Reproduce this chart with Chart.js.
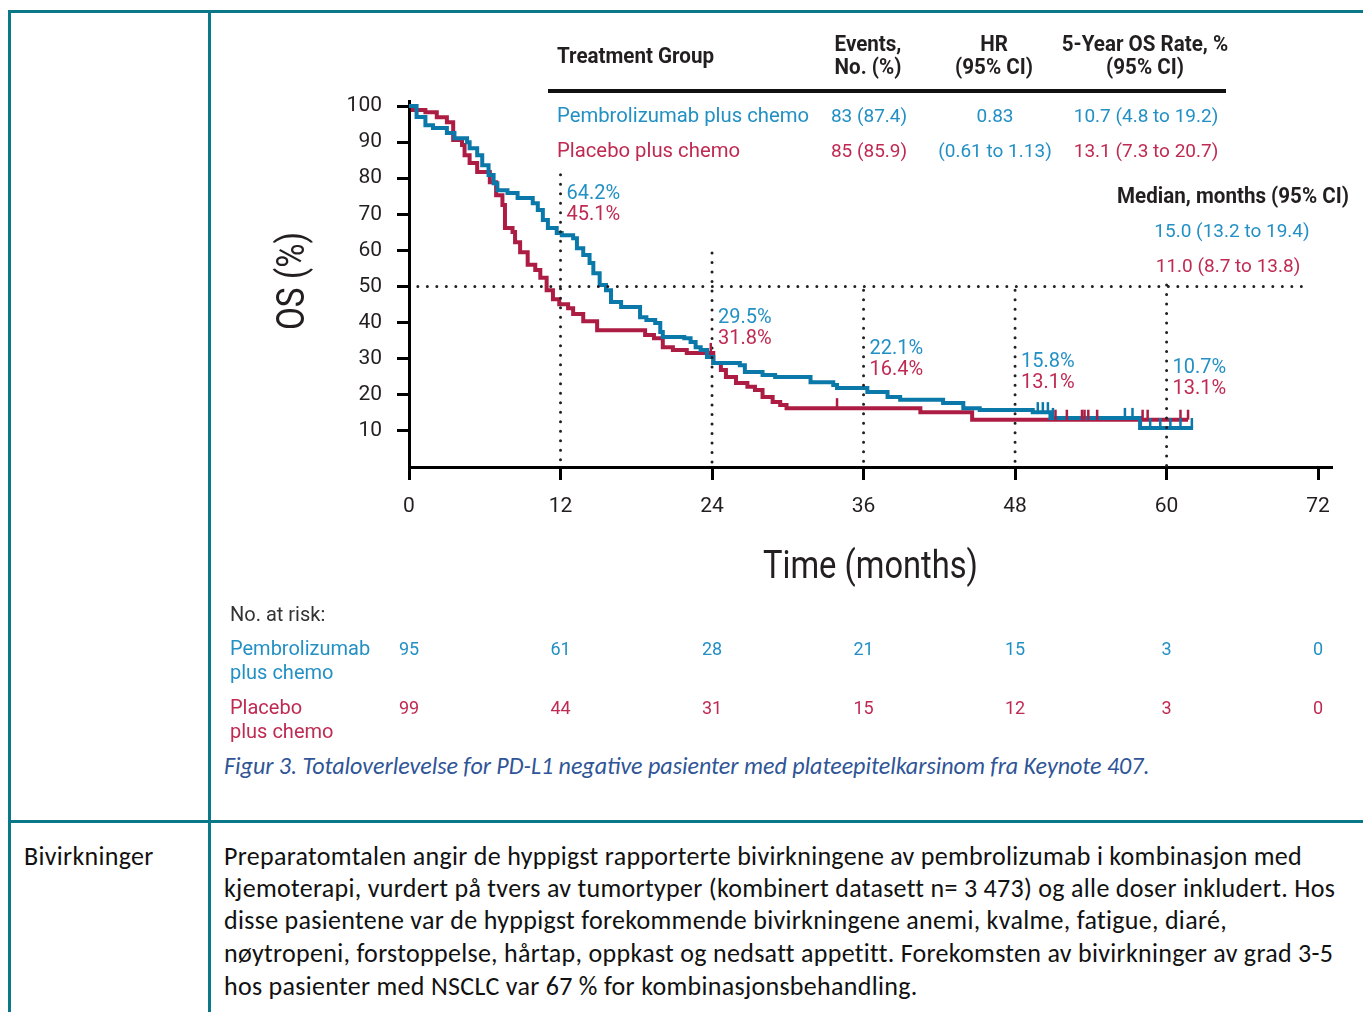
<!DOCTYPE html>
<html lang="no">
<head>
<meta charset="utf-8">
<title>Totaloverlevelse PD-L1 negative</title>
<script src="https://cdn.jsdelivr.net/npm/chart.js@4.4.1/dist/chart.umd.min.js"></script>
<style>
  html, body { margin: 0; padding: 0; background: #fff; }
  body { position: relative; width: 1363px; height: 1012px; overflow: hidden; }
  .rule { position: absolute; background: #0b7889; }
  .txt { position: absolute; white-space: nowrap; line-height: 1; }
  .l { transform: translateY(-50%); transform-origin: left center; }
  .c { transform: translate(-50%, -50%); text-align: center; }
  .tbl { font-family: Roboto, "Liberation Sans", sans-serif; font-size: 19px; }
  .nm { font-size: 20.3px; }
  .hd { font-family: Roboto, "Liberation Sans", sans-serif; font-weight: bold; font-size: 22px; color: #231f20; line-height: 23px; }
  .blue { color: #2390c4; }
  .red { color: #bf2a52; }
  .risk { font-family: Roboto, "Liberation Sans", sans-serif; font-size: 20px; line-height: 24px; }
  .doc { font-family: Carlito, Lato, sans-serif; font-size: 26px; letter-spacing: 0.3px; color: #111; }
  .cap { font-family: Carlito, Lato, sans-serif; font-size: 24px; font-style: italic; color: #2f5597; }
  #chartBox { position: absolute; left: 212px; top: 14px; width: 1151px; height: 731px; }
</style>
</head>
<body>
<div class="rule" style="left:8px;top:10px;width:1355px;height:3px"></div>
<div class="rule" style="left:8px;top:10px;width:3px;height:1002px"></div>
<div class="rule" style="left:208px;top:10px;width:3px;height:1002px"></div>
<div class="rule" style="left:8px;top:820px;width:1355px;height:3px"></div>

<div id="chartBox"><canvas id="osChart"></canvas></div>

<!-- tabell i figuren -->
<div class="txt hd l" id="tgHead" style="left:557px;top:55px">Treatment Group</div>
<div class="txt hd c" style="left:868px;top:55px">Events,<br>No. (%)</div>
<div class="txt hd c" style="left:994px;top:55px">HR<br>(95% CI)</div>
<div class="txt hd c" style="left:1145px;top:55px">5-Year OS Rate, %<br>(95% CI)</div>
<div style="position:absolute;left:548px;top:89px;width:678px;height:4px;background:#111"></div>

<div class="txt tbl nm blue l" style="left:557px;top:115px">Pembrolizumab plus chemo</div>
<div class="txt tbl blue c" style="left:869px;top:115px">83 (87.4)</div>
<div class="txt tbl blue c" style="left:995px;top:115px">0.83</div>
<div class="txt tbl blue c" style="left:1146px;top:115px">10.7 (4.8 to 19.2)</div>
<div class="txt tbl nm red l" style="left:557px;top:150px">Placebo plus chemo</div>
<div class="txt tbl red c" style="left:869px;top:150px">85 (85.9)</div>
<div class="txt tbl blue c" style="left:995px;top:150px">(0.61 to 1.13)</div>
<div class="txt tbl red c" style="left:1146px;top:150px">13.1 (7.3 to 20.7)</div>

<div class="txt hd c" style="left:1233px;top:195px">Median, months (95% CI)</div>
<div class="txt tbl blue c" style="left:1232px;top:230px">15.0 (13.2 to 19.4)</div>
<div class="txt tbl red c" style="left:1228px;top:265px">11.0 (8.7 to 13.8)</div>

<!-- antall i risiko -->
<div class="txt risk l" style="left:230px;top:614px;color:#333">No. at risk:</div>
<div class="txt risk blue l" style="left:230px;top:660px">Pembrolizumab<br>plus chemo</div>
<div class="txt risk red l" style="left:230px;top:719px">Placebo<br>plus chemo</div>

<div class="txt cap l" style="left:224px;top:766px">Figur 3. Totaloverlevelse for PD-L1 negative pasienter med plateepitelkarsinom fra Keynote 407.</div>

<div class="txt doc l" style="left:24px;top:856px">Bivirkninger</div>
<div class="txt doc l" style="left:224px;top:856px">Preparatomtalen angir de hyppigst rapporterte bivirkningene av pembrolizumab i kombinasjon med</div>
<div class="txt doc l" style="left:224px;top:888px">kjemoterapi, vurdert på tvers av tumortyper (kombinert datasett n= 3 473) og alle doser inkludert. Hos</div>
<div class="txt doc l" style="left:224px;top:920px">disse pasientene var de hyppigst forekommende bivirkningene anemi, kvalme, fatigue, diaré,</div>
<div class="txt doc l" style="left:224px;top:953px">nøytropeni, forstoppelse, hårtap, oppkast og nedsatt appetitt. Forekomsten av bivirkninger av grad 3-5</div>
<div class="txt doc l" style="left:224px;top:986px">hos pasienter med NSCLC var 67 % for kombinasjonsbehandling.</div>

<script>
// akser
const xTicks = [0, 12, 24, 36, 48, 60, 72];
const yTicks = [10, 20, 30, 40, 50, 60, 70, 80, 90, 100];
const xTitle = 'Time (months)';
const yTitle = 'OS (%)';

// Kaplan-Meier (måneder, OS %)
const pembroTime = [0, 0.6, 1.3, 1.9, 3.0, 3.6, 4.6, 4.8, 5.4, 5.8, 6.3, 6.7, 7.0, 7.8, 8.6, 9.8, 10.2, 10.6, 11.0, 11.7, 12.1, 13.0, 13.3, 13.8, 14.3, 14.6, 15.1, 15.6, 16.0, 16.8, 18.3, 18.8, 19.5, 19.9, 20.1, 21.8, 22.3, 22.7, 23.1, 23.6, 24.1, 26.2, 26.6, 28.0, 29.0, 31.8, 33.6, 33.9, 36.3, 37.9, 38.9, 42.3, 43.9, 45.2, 49.4, 50.8, 57.9, 62.1];
const pembroSurv = [100, 97.0, 94.7, 93.9, 92.5, 91.1, 90.0, 88.3, 86.4, 83.6, 80.9, 78.6, 76.7, 75.9, 74.5, 73.1, 71.2, 68.4, 66.2, 64.8, 64.2, 63.4, 60.6, 58.7, 56.5, 53.7, 50.4, 49.0, 45.7, 44.3, 41.5, 40.7, 39.9, 37.4, 36.0, 35.7, 34.6, 33.2, 32.4, 30.5, 28.8, 28.2, 26.3, 25.5, 24.9, 23.5, 22.7, 21.9, 20.8, 19.4, 18.6, 17.7, 16.3, 15.8, 15.2, 13.6, 10.8, 10.8];
const placeboTime = [0, 0.3, 1.3, 2.2, 3.0, 3.5, 4.2, 4.4, 4.8, 5.4, 6.4, 6.9, 7.4, 7.6, 8.2, 8.4, 8.8, 9.4, 10.0, 10.4, 10.9, 11.4, 11.9, 12.6, 13.0, 13.8, 14.9, 18.7, 19.4, 20.1, 20.9, 22.0, 24.1, 24.7, 25.1, 25.9, 26.8, 27.4, 28.0, 28.8, 29.4, 29.9, 40.5, 44.6, 61.7];
const placeboSurv = [100, 98.9, 98.3, 96.9, 95.5, 90.6, 89.2, 86.4, 84.2, 81.7, 78.9, 75.3, 72.6, 66.2, 65.1, 62.3, 59.5, 56.0, 54.6, 52.4, 49.0, 46.5, 45.1, 44.0, 42.4, 40.4, 37.9, 36.6, 35.7, 33.2, 32.4, 31.6, 28.8, 26.9, 24.9, 23.3, 22.2, 21.3, 19.4, 18.0, 17.2, 16.3, 15.2, 13.1, 13.1];

// sensurerte observasjoner (måneder)
const pembroCensor = [49.8, 50.2, 50.6, 51.0, 56.7, 57.3, 58.7, 59.5, 60.3, 61.1, 62.0];
const placeboCensor = [23.9, 33.9, 51.2, 52.1, 53.3, 53.5, 53.8, 54.5, 58.1, 58.5, 61.1, 61.7];

// landemerker
const landmarks = [12, 24, 36, 48, 60];
const pembroLandmark = ['64.2%', '29.5%', '22.1%', '15.8%', '10.7%'];
const placeboLandmark = ['45.1%', '31.8%', '16.4%', '13.1%', '13.1%'];
const medianLevel = 50;

// antall i risiko
const atRiskPembro = [95, 61, 28, 21, 15, 3, 0];
const atRiskPlacebo = [99, 44, 31, 15, 12, 3, 0];

const blueLine = '#0a78a8';
const redLine = '#ad1c43';
const blueText = '#2390c4';
const redText = '#bf2a52';
const ink = '#231f20';

// hvor de stiplede linjene starter (OS %) og hvor etikettene står
const landmarkLineTop = [81, 59.3, 49, 49, 50.4];
const labelY = [75.6, 41.3, 32.7, 29.1, 27.4];

// smal overskrift: klem Roboto bold til samme bredde som i originalen
const hdScale = 157 / document.getElementById('tgHead').getBoundingClientRect().width;
document.querySelectorAll('.hd').forEach(el => {
    el.style.transform = el.classList.contains('c')
        ? `translate(-50%, -50%) scaleX(${hdScale})`
        : `translateY(-50%) scaleX(${hdScale})`;
});

function toPoints(ts, ss) {
    return ts.map((t, i) => ({ x: t, y: ss[i] }));
}

function survAt(t, ts, ss) {
    let v = ss[0];
    for (let i = 0; i < ts.length; i++) {
        if (ts[i] <= t) v = ss[i];
    }
    return v;
}

function narrowText(ctx, text, cx, cy, width, rotate) {
    ctx.save();
    ctx.translate(cx, cy);
    if (rotate) ctx.rotate(-Math.PI / 2);
    ctx.font = '38px Roboto';
    const w = ctx.measureText(text).width;
    ctx.scale(width / w, 1);
    ctx.fillStyle = ink;
    ctx.textAlign = 'center';
    ctx.textBaseline = 'middle';
    ctx.fillText(text, 0, 0);
    ctx.restore();
}

const dotted = {
    borderColor: ink,
    borderWidth: 3,
    borderDash: [0, 9.5],
    borderCapStyle: 'round',
    pointRadius: 0,
    fill: false,
    order: 1
};

const kmExtras = {
    id: 'kmExtras',
    afterDatasetsDraw(chart) {
        const { ctx, scales: { x, y } } = chart;
        ctx.save();

        // sensurmerker
        ctx.lineWidth = 2.5;
        const censor = (times, ts, ss, color) => {
            ctx.strokeStyle = color;
            times.forEach(t => {
                const px = x.getPixelForValue(t);
                const py = y.getPixelForValue(survAt(t, ts, ss));
                ctx.beginPath();
                ctx.moveTo(px, py);
                ctx.lineTo(px, py - 10);
                ctx.stroke();
            });
        };
        censor(placeboCensor, placeboTime, placeboSurv, redLine);
        censor(pembroCensor, pembroTime, pembroSurv, blueLine);

        // landemerke-etiketter
        ctx.font = '20px Roboto';
        ctx.textAlign = 'left';
        ctx.textBaseline = 'middle';
        landmarks.forEach((t, i) => {
            const px = x.getPixelForValue(t) + 6;
            const py = y.getPixelForValue(labelY[i]);
            ctx.fillStyle = blueText;
            ctx.fillText(pembroLandmark[i], px, py);
            ctx.fillStyle = redText;
            ctx.fillText(placeboLandmark[i], px, py + 21);
        });

        // antall i risiko under aksen
        ctx.font = '18px Roboto';
        ctx.textAlign = 'center';
        xTicks.forEach((t, i) => {
            const px = x.getPixelForValue(t);
            ctx.fillStyle = blueText;
            ctx.fillText(atRiskPembro[i], px, x.bottom + 46);
            ctx.fillStyle = redText;
            ctx.fillText(atRiskPlacebo[i], px, x.bottom + 105);
        });
        ctx.restore();

        // aksetitler
        narrowText(ctx, xTitle, (x.left + x.right) / 2, x.bottom - 36, 215, false);
        narrowText(ctx, yTitle, y.left + 82, (y.top + y.bottom) / 2 - 3, 98, true);
    }
};

const datasets = [
    {
        label: 'Placebo plus chemo',
        data: toPoints(placeboTime, placeboSurv),
        stepped: 'before',
        borderColor: redLine,
        borderWidth: 4,
        pointRadius: 0,
        fill: false,
        order: 3
    },
    {
        label: 'Pembrolizumab plus chemo',
        data: toPoints(pembroTime, pembroSurv),
        stepped: 'before',
        borderColor: blueLine,
        borderWidth: 4,
        pointRadius: 0,
        fill: false,
        order: 2
    },
    { ...dotted, label: 'median', data: [{ x: 0.7, y: medianLevel }, { x: 71, y: medianLevel }] }
];
landmarks.forEach((t, i) => {
    datasets.push({ ...dotted, label: 'lm' + t, data: [{ x: t, y: landmarkLineTop[i] }, { x: t, y: 0 }] });
});

new Chart(document.getElementById('osChart'), {
    type: 'line',
    data: { datasets },
    options: {
        responsive: true,
        maintainAspectRatio: false,
        animation: false,
        layout: { padding: { left: 0, top: 87, right: 31, bottom: 141 } },
        plugins: { legend: { display: false }, tooltip: { enabled: false } },
        scales: {
            x: {
                type: 'linear',
                min: 0,
                max: 73.1,
                afterBuildTicks: s => { s.ticks = xTicks.map(v => ({ value: v })); },
                afterFit: s => { s.height = 137; },
                border: { display: true, color: '#000', width: 3 },
                grid: { display: true, drawOnChartArea: false, drawTicks: true, tickLength: 13, tickWidth: 3, tickColor: '#000' },
                ticks: { color: ink, font: { family: 'Roboto', size: 21 }, padding: 14, maxRotation: 0, autoSkip: false },
                title: { display: false, text: xTitle }
            },
            y: {
                type: 'linear',
                min: 0,
                max: 101.4,
                afterBuildTicks: s => { s.ticks = yTicks.map(v => ({ value: v })); },
                afterFit: s => { s.width = 197; },
                border: { display: true, color: '#000', width: 3 },
                grid: { display: true, drawOnChartArea: false, drawTicks: true, tickLength: 12, tickWidth: 3, tickColor: '#000' },
                ticks: { color: ink, font: { family: 'Roboto', size: 21 }, padding: 15, autoSkip: false },
                title: { display: false, text: yTitle }
            }
        }
    },
    plugins: [kmExtras]
});
</script>
</body>
</html>
